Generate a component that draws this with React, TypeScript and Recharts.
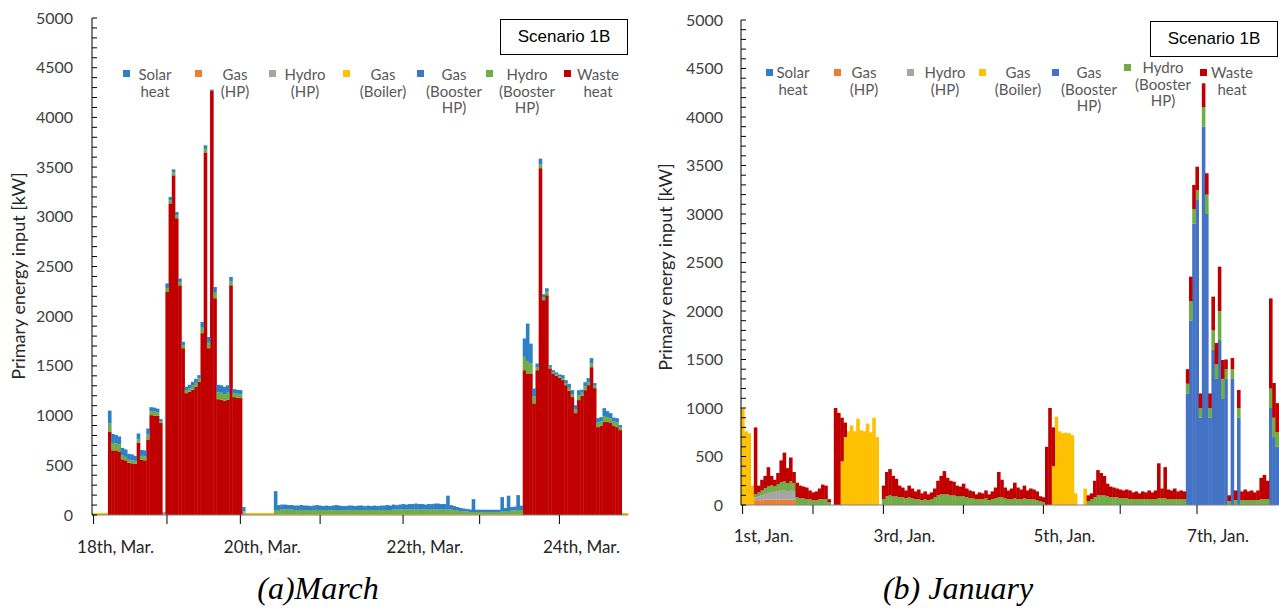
import React from 'react';
import { BarChart, Bar, XAxis, YAxis, Legend } from 'recharts';

// hourly steps of one week
const hours = Array.from({ length: 168 }, (_, i) => i);

const seriesKeys = ['solar', 'gasHp', 'hydroHp', 'boiler', 'gasBooster', 'hydroBooster', 'waste'];
const seriesLines = [
  ['Solar', 'heat'],
  ['Gas', '(HP)'],
  ['Hydro', '(HP)'],
  ['Gas', '(Boiler)'],
  ['Gas', '(Booster', 'HP)'],
  ['Hydro', '(Booster', 'HP)'],
  ['Waste', 'heat'],
];
const seriesColors: Record<string, string> = {
  solar: '#2E80C6',
  gasHp: '#ED7D31',
  hydroHp: '#A5A5A5',
  boiler: '#FFC000',
  gasBooster: '#4472C4',
  hydroBooster: '#70AD47',
  waste: '#C00000',
};

const yMajorTicks = [0, 500, 1000, 1500, 2000, 2500, 3000, 3500, 4000, 4500, 5000];
const yMinorTicks = [
  0, 100, 200, 300, 400, 500, 600, 700, 800, 900, 1000, 1100, 1200, 1300, 1400, 1500, 1600,
  1700, 1800, 1900, 2000, 2100, 2200, 2300, 2400, 2500, 2600, 2700, 2800, 2900, 3000, 3100,
  3200, 3300, 3400, 3500, 3600, 3700, 3800, 3900, 4000, 4100, 4200, 4300, 4400, 4500, 4600,
  4700, 4800, 4900, 5000,
];

// ---- March (18th - 24th) ----
const marchTickHours = [0, 23, 46, 71, 97, 121, 146];
const marchLabelHours = [0, 46, 97, 146];
const marchLabels = ['18th, Mar.', '20th, Mar.', '22th, Mar.', '24th, Mar.'];

const marchSolar = [
  0, 0, 0, 0, 0, 130, 90, 85, 80, 75, 75, 60, 60, 50, 60, 60, 60, 60, 40, 40, 35, 20, 0, 46,
  34, 30, 33, 34, 34, 34, 35, 40, 40, 32, 59, 36, 59, 9, 58, 75, 75, 75, 75, 44, 40, 40, 40, 40,
  0, 0, 0, 0, 0, 0, 0, 0, 0, 190, 50, 50, 50, 45, 45, 45, 45, 50, 45, 45, 40, 45, 50, 45,
  40, 45, 40, 45, 50, 45, 40, 40, 45, 45, 40, 45, 45, 40, 45, 40, 45, 40, 45, 45, 50, 45, 50, 45,
  50, 55, 50, 55, 55, 60, 55, 55, 50, 55, 55, 60, 60, 55, 55, 139, 45, 40, 35, 30, 30, 25, 25, 130,
  23, 23, 23, 23, 23, 23, 23, 23, 145, 30, 154, 35, 40, 150, 44, 185, 382, 200, 80, 37, 56, 30, 35, 18,
  18, 20, 20, 30, 31, 40, 40, 40, 50, 30, 40, 41, 51, 26, 46, 45, 80, 60, 50, 40, 46, 26, 0, 0,
];
const marchGasHp = [
  0, 0, 0, 0, 0, 0, 0, 0, 0, 0, 0, 0, 0, 0, 0, 0, 0, 0, 0, 0, 0, 0, 0, 0,
  0, 0, 0, 0, 0, 0, 0, 0, 0, 0, 0, 0, 0, 0, 0, 0, 0, 0, 0, 0, 0, 0, 0, 0,
  0, 0, 0, 0, 0, 0, 0, 0, 0, 0, 0, 0, 0, 0, 0, 0, 0, 0, 0, 0, 0, 0, 0, 0,
  0, 0, 0, 0, 0, 0, 0, 0, 0, 0, 0, 0, 0, 0, 0, 0, 0, 0, 0, 0, 0, 0, 0, 0,
  0, 0, 0, 0, 0, 0, 0, 0, 0, 0, 0, 0, 0, 0, 0, 0, 0, 0, 0, 0, 0, 0, 0, 0,
  0, 0, 0, 0, 0, 0, 0, 0, 0, 0, 0, 0, 0, 0, 0, 0, 0, 0, 0, 0, 0, 0, 0, 0,
  0, 0, 0, 0, 0, 0, 0, 0, 0, 0, 0, 0, 0, 0, 0, 0, 0, 0, 0, 0, 0, 0, 0, 0,
];
const marchHydroHp = [
  0, 0, 0, 0, 0, 0, 0, 0, 0, 0, 0, 0, 0, 0, 0, 0, 0, 0, 0, 0, 0, 0, 30, 0,
  0, 0, 0, 0, 0, 0, 0, 0, 0, 0, 0, 0, 0, 0, 0, 0, 0, 0, 0, 0, 0, 0, 0, 40,
  0, 0, 0, 0, 0, 0, 0, 0, 0, 0, 0, 0, 0, 0, 0, 0, 0, 0, 0, 0, 0, 0, 0, 0,
  0, 0, 0, 0, 0, 0, 0, 0, 0, 0, 0, 0, 0, 0, 0, 0, 0, 0, 0, 0, 0, 0, 0, 0,
  0, 0, 0, 0, 0, 0, 0, 0, 0, 0, 0, 0, 0, 0, 0, 0, 0, 0, 0, 0, 0, 0, 0, 0,
  0, 0, 0, 0, 0, 0, 0, 0, 0, 0, 0, 0, 0, 0, 0, 0, 0, 0, 0, 0, 0, 0, 0, 0,
  0, 0, 0, 0, 0, 0, 0, 0, 0, 0, 0, 0, 0, 0, 0, 0, 0, 0, 0, 0, 0, 0, 0, 0,
];
const marchBoiler = [
  20, 20, 20, 20, 20, 0, 0, 0, 0, 0, 0, 0, 0, 0, 0, 0, 0, 0, 0, 0, 0, 0, 0, 0,
  0, 0, 0, 0, 0, 0, 0, 0, 0, 0, 0, 0, 0, 0, 0, 0, 0, 0, 0, 0, 0, 0, 0, 0,
  20, 20, 20, 20, 20, 20, 20, 20, 20, 10, 10, 10, 10, 10, 10, 10, 10, 10, 10, 10, 10, 10, 10, 10,
  10, 10, 10, 10, 10, 10, 10, 10, 10, 10, 10, 10, 10, 10, 10, 10, 10, 10, 10, 10, 10, 10, 10, 10,
  10, 10, 10, 10, 10, 10, 10, 10, 10, 10, 10, 10, 10, 10, 10, 10, 10, 10, 10, 10, 10, 10, 10, 10,
  10, 10, 10, 10, 10, 10, 10, 10, 10, 10, 10, 10, 10, 10, 10, 0, 0, 0, 0, 0, 0, 0, 0, 0,
  0, 0, 0, 0, 0, 0, 0, 0, 0, 0, 0, 0, 0, 0, 0, 0, 0, 0, 0, 0, 0, 0, 20, 20,
];
const marchGasBooster = [
  0, 0, 0, 0, 0, 0, 0, 0, 0, 0, 0, 0, 0, 0, 0, 0, 0, 0, 0, 0, 0, 0, 0, 0,
  0, 0, 0, 0, 0, 0, 0, 0, 0, 0, 0, 0, 0, 0, 0, 0, 0, 0, 0, 0, 0, 0, 0, 0,
  0, 0, 0, 0, 0, 0, 0, 0, 0, 0, 0, 0, 0, 0, 0, 0, 0, 0, 0, 0, 0, 0, 0, 0,
  0, 0, 0, 0, 0, 0, 0, 0, 0, 0, 0, 0, 0, 0, 0, 0, 0, 0, 0, 0, 0, 0, 0, 0,
  0, 0, 0, 0, 0, 0, 0, 0, 0, 0, 0, 0, 0, 0, 0, 0, 0, 0, 0, 0, 0, 0, 0, 0,
  0, 0, 0, 0, 0, 0, 0, 0, 0, 0, 0, 0, 0, 0, 0, 0, 0, 0, 0, 0, 0, 0, 0, 0,
  0, 0, 0, 0, 0, 0, 0, 0, 0, 0, 0, 0, 0, 0, 0, 0, 0, 0, 0, 0, 0, 0, 0, 0,
];
const marchHydroBooster = [
  0, 0, 0, 0, 0, 80, 75, 70, 70, 40, 35, 30, 30, 30, 30, 40, 40, 50, 40, 40, 35, 20, 0, 40,
  30, 30, 30, 34, 30, 30, 35, 40, 40, 35, 55, 35, 55, 0, 55, 70, 70, 65, 70, 40, 40, 40, 40, 0,
  0, 0, 0, 0, 0, 0, 0, 0, 0, 40, 40, 45, 45, 45, 45, 40, 40, 40, 40, 40, 40, 40, 40, 40,
  40, 40, 40, 40, 40, 40, 40, 40, 40, 40, 40, 40, 40, 40, 40, 40, 40, 40, 40, 40, 40, 40, 45, 45,
  45, 45, 45, 45, 45, 45, 45, 45, 45, 45, 45, 45, 45, 45, 45, 45, 45, 40, 35, 30, 25, 25, 20, 20,
  20, 20, 20, 20, 20, 20, 20, 20, 25, 30, 30, 35, 35, 40, 40, 134, 120, 100, 70, 30, 40, 30, 35, 15,
  15, 15, 15, 20, 20, 30, 30, 40, 50, 30, 40, 30, 40, 25, 45, 40, 60, 50, 50, 40, 45, 25, 0, 0,
];
const marchWaste = [
  0, 0, 0, 0, 0, 840, 650, 650, 640, 560, 550, 525, 520, 515, 730, 555, 550, 760, 1005, 1000, 1000, 925, 0, 2244,
  3135, 3417, 2985, 2311, 1678, 1226, 1240, 1260, 1290, 1340, 1829, 3648, 1678, 4271, 2181, 1165, 1160, 1150, 1160, 2311, 1186, 1180, 1176, 0,
  0, 0, 0, 0, 0, 0, 0, 0, 0, 0, 0, 0, 0, 0, 0, 0, 0, 0, 0, 0, 0, 0, 0, 0,
  0, 0, 0, 0, 0, 0, 0, 0, 0, 0, 0, 0, 0, 0, 0, 0, 0, 0, 0, 0, 0, 0, 0, 0,
  0, 0, 0, 0, 0, 0, 0, 0, 0, 0, 0, 0, 0, 0, 0, 0, 0, 0, 0, 0, 0, 0, 0, 0,
  0, 0, 0, 0, 0, 0, 0, 0, 0, 0, 0, 0, 0, 0, 0, 1457, 1424, 1424, 1123, 1457, 3489, 2161, 2211, 1475,
  1424, 1400, 1380, 1357, 1306, 1250, 1186, 1025, 1156, 1200, 1256, 1306, 1487, 1276, 884, 900, 935, 935, 925, 900, 884, 854, 0, 0,
];

// ---- January (1st - 7th) ----
const januaryTickHours = [0, 22, 44, 69, 94, 118, 142];
const januaryLabelHours = [0, 44, 94, 142];
const januaryLabels = ['1st, Jan.', '3rd, Jan.', '5th, Jan.', '7th, Jan.'];

const januarySolar = [
  0, 0, 0, 0, 0, 0, 0, 0, 0, 0, 0, 0, 0, 0, 0, 0, 0, 0, 0, 0, 0, 0, 0, 0,
  0, 0, 0, 0, 0, 0, 0, 0, 0, 0, 0, 0, 0, 0, 0, 0, 0, 0, 0, 0, 0, 0, 0, 0,
  0, 0, 0, 0, 0, 0, 0, 0, 0, 0, 0, 0, 0, 0, 0, 0, 0, 0, 0, 0, 0, 0, 0, 0,
  0, 0, 0, 0, 0, 0, 0, 0, 0, 0, 0, 0, 0, 0, 0, 0, 0, 0, 0, 0, 0, 0, 0, 0,
  0, 0, 0, 0, 0, 0, 0, 0, 0, 0, 0, 0, 0, 0, 0, 0, 0, 0, 0, 0, 0, 0, 0, 0,
  0, 0, 0, 0, 0, 0, 0, 0, 0, 0, 0, 0, 0, 0, 0, 0, 0, 0, 0, 0, 0, 0, 0, 0,
  0, 0, 0, 0, 0, 0, 0, 0, 0, 0, 0, 0, 0, 0, 0, 0, 0, 0, 0, 0, 0, 0, 0, 0,
];
const januaryGasHp = [
  0, 0, 0, 0, 50, 50, 50, 55, 55, 55, 55, 55, 55, 55, 55, 55, 55, 0, 0, 0, 0, 0, 0, 0,
  0, 0, 0, 0, 0, 0, 0, 0, 0, 0, 0, 0, 0, 0, 0, 0, 0, 0, 0, 0, 0, 0, 0, 0,
  0, 0, 0, 0, 0, 0, 0, 0, 0, 0, 0, 0, 0, 0, 0, 0, 0, 0, 0, 0, 0, 0, 0, 0,
  0, 0, 0, 0, 0, 0, 0, 0, 0, 0, 0, 0, 0, 0, 0, 0, 0, 0, 0, 0, 0, 0, 0, 0,
  0, 0, 0, 0, 0, 0, 0, 0, 0, 0, 0, 0, 0, 0, 0, 0, 0, 0, 0, 0, 0, 0, 0, 0,
  0, 0, 0, 0, 0, 0, 0, 0, 0, 0, 0, 0, 0, 0, 0, 0, 0, 0, 0, 0, 0, 0, 0, 0,
  0, 0, 0, 0, 0, 0, 0, 0, 0, 0, 0, 0, 0, 0, 0, 0, 0, 0, 0, 0, 0, 0, 0, 0,
];
const januaryHydroHp = [
  0, 0, 0, 0, 30, 40, 50, 60, 70, 80, 80, 90, 100, 100, 90, 100, 90, 0, 0, 0, 0, 0, 0, 0,
  0, 0, 0, 0, 0, 0, 0, 0, 0, 0, 0, 0, 0, 0, 0, 0, 0, 0, 0, 0, 0, 0, 0, 0,
  0, 0, 0, 0, 0, 0, 0, 0, 0, 0, 0, 0, 0, 0, 0, 0, 0, 0, 0, 0, 0, 0, 0, 0,
  0, 0, 0, 0, 0, 0, 0, 0, 0, 0, 0, 0, 0, 0, 0, 0, 0, 0, 0, 0, 0, 0, 0, 0,
  0, 0, 0, 0, 0, 0, 0, 0, 0, 0, 0, 0, 0, 0, 0, 0, 0, 0, 0, 0, 0, 0, 0, 0,
  0, 0, 0, 0, 0, 0, 0, 0, 0, 0, 0, 0, 0, 0, 0, 0, 0, 0, 0, 0, 0, 0, 0, 0,
  0, 0, 0, 0, 0, 0, 0, 0, 0, 0, 0, 0, 0, 0, 0, 0, 0, 0, 0, 0, 0, 0, 0, 0,
];
const januaryBoiler = [
  1000, 760, 740, 200, 0, 0, 0, 0, 0, 0, 0, 0, 0, 0, 0, 0, 0, 0, 0, 0, 0, 0, 0, 0,
  0, 0, 0, 0, 0, 0, 0, 450, 700, 760, 820, 760, 890, 770, 760, 840, 750, 900, 700, 0, 0, 0, 0, 0,
  0, 0, 0, 0, 0, 0, 0, 0, 0, 0, 0, 0, 0, 0, 0, 0, 0, 0, 0, 0, 0, 0, 0, 0,
  0, 0, 0, 0, 0, 0, 0, 0, 0, 0, 0, 0, 0, 0, 0, 0, 0, 0, 0, 0, 0, 0, 0, 0,
  0, 400, 910, 760, 740, 745, 740, 720, 120, 0, 0, 170, 0, 0, 0, 0, 0, 0, 0, 0, 0, 0, 0, 0,
  0, 0, 0, 0, 0, 0, 0, 0, 0, 0, 0, 0, 0, 0, 0, 0, 0, 0, 0, 0, 0, 0, 0, 0,
  0, 0, 0, 0, 0, 0, 0, 0, 0, 0, 0, 0, 0, 0, 0, 0, 0, 0, 0, 0, 0, 0, 0, 0,
];
const januaryGasBooster = [
  0, 0, 0, 0, 0, 0, 0, 0, 0, 0, 0, 0, 0, 0, 0, 0, 0, 0, 0, 0, 0, 0, 0, 0,
  0, 0, 0, 0, 0, 0, 0, 0, 0, 0, 0, 0, 0, 0, 0, 0, 0, 0, 0, 0, 0, 0, 0, 0,
  0, 0, 0, 0, 0, 0, 0, 0, 0, 0, 0, 0, 0, 0, 0, 0, 0, 0, 0, 0, 0, 0, 0, 0,
  0, 0, 0, 0, 0, 0, 0, 0, 0, 0, 0, 0, 0, 0, 0, 0, 0, 0, 0, 0, 0, 0, 0, 0,
  0, 0, 0, 0, 0, 0, 0, 0, 0, 0, 0, 0, 0, 0, 0, 0, 0, 0, 0, 0, 0, 0, 0, 0,
  0, 0, 0, 0, 0, 0, 0, 0, 0, 0, 0, 0, 0, 0, 0, 0, 0, 0, 0, 1150, 1900, 2900, 3144, 900,
  3900, 3000, 900, 1600, 1300, 1700, 1100, 1300, 0, 1300, 0, 900, 0, 0, 0, 0, 0, 0, 0, 0, 0, 1000, 700, 600,
];
const januaryHydroBooster = [
  0, 0, 0, 0, 30, 40, 50, 60, 70, 70, 60, 70, 80, 90, 80, 90, 80, 80, 70, 70, 60, 60, 50, 50,
  60, 60, 60, 30, 0, 0, 0, 0, 0, 0, 0, 0, 0, 0, 0, 0, 0, 0, 0, 0, 60, 90, 100, 90,
  90, 80, 80, 70, 80, 70, 60, 60, 50, 60, 50, 60, 80, 100, 110, 110, 110, 100, 100, 90, 90, 90, 80, 70,
  70, 60, 60, 60, 70, 50, 60, 70, 80, 80, 70, 60, 60, 70, 60, 60, 70, 60, 60, 60, 50, 40, 30, 0,
  0, 0, 0, 0, 0, 0, 0, 0, 0, 0, 0, 0, 40, 60, 80, 100, 100, 100, 90, 80, 80, 80, 70, 70,
  70, 60, 60, 60, 60, 60, 60, 60, 60, 60, 70, 70, 70, 60, 60, 60, 60, 60, 60, 100, 200, 150, 100, 100,
  200, 200, 100, 200, 150, 300, 200, 100, 40, 100, 50, 100, 50, 50, 50, 50, 50, 50, 60, 60, 60, 200, 200, 150,
];
const januaryWaste = [
  0, 0, 0, 0, 690, 70, 110, 125, 195, 95, 65, 115, 225, 295, 155, 245, 115, 150, 130, 120, 120, 90, 80, 90,
  110, 150, 140, 30, 0, 1000, 950, 450, 150, 0, 0, 0, 0, 0, 0, 0, 0, 0, 0, 0, 140, 250, 270, 210,
  180, 120, 100, 80, 120, 100, 80, 100, 70, 80, 60, 70, 90, 150, 190, 240, 170, 150, 140, 110, 100, 130, 90, 80,
  70, 50, 70, 60, 80, 60, 80, 110, 260, 180, 110, 90, 110, 160, 120, 100, 130, 90, 110, 100, 90, 50, 50, 600,
  1000, 400, 0, 0, 0, 0, 0, 0, 0, 0, 0, 0, 60, 60, 170, 260, 230, 200, 130, 110, 100, 90, 90, 80,
  90, 90, 70, 80, 60, 80, 70, 90, 70, 90, 360, 100, 320, 100, 90, 110, 80, 90, 80, 150, 254, 250, 244, 150,
  247, 220, 150, 348, 220, 457, 195, 100, 60, 115, 100, 186, 90, 110, 90, 100, 80, 100, 220, 250, 190, 930, 358, 300,
];

const marchRows = hours.map((h, i) => ({
  h,
  solar: marchSolar[i],
  gasHp: marchGasHp[i],
  hydroHp: marchHydroHp[i],
  boiler: marchBoiler[i],
  gasBooster: marchGasBooster[i],
  hydroBooster: marchHydroBooster[i],
  waste: marchWaste[i],
}));

const januaryRows = hours.map((h, i) => ({
  h,
  solar: januarySolar[i],
  gasHp: januaryGasHp[i],
  hydroHp: januaryHydroHp[i],
  boiler: januaryBoiler[i],
  gasBooster: januaryGasBooster[i],
  hydroBooster: januaryHydroBooster[i],
  waste: januaryWaste[i],
}));

const FONT = 'Lato, "Open Sans", sans-serif';

// bars are floored to whole pixels by recharts, widen a bit so columns touch
const Column = (props: any) => {
  const { x, y, width, height, fill } = props;
  if (!height || height <= 0) return <g />;
  return <rect x={x} y={y} width={width + 0.6} height={height} fill={fill} />;
};

const YTick = (props: any) => {
  const { x, y, payload } = props;
  if (!yMajorTicks.includes(payload.value)) return <g />;
  return (
    <text x={x} y={y} dy={5.5} textAnchor="end" fontSize={16} fill="#404040" fontFamily={FONT}>
      {payload.value}
    </text>
  );
};

const AxisTitle = ({ titleX, titleY }: any) => (
  <text
    x={titleX}
    y={titleY}
    transform={`rotate(-90, ${titleX}, ${titleY})`}
    textAnchor="middle"
    dominantBaseline="central"
    fontSize={18}
    fill="#262626"
    fontFamily={FONT}
  >
    Primary energy input [kW]
  </text>
);

function LegendBlock({ layout }: any) {
  return (
    <div style={{ position: 'relative', width: 0, height: 0 }}>
      {seriesKeys.map((k, i) => (
        <React.Fragment key={k}>
          <div
            style={{
              position: 'absolute',
              left: layout.markerX[i],
              top: layout.markerY + layout.itemDy[i] - 3.5,
              width: 7,
              height: 7,
              background: seriesColors[k],
            }}
          />
          <div
            style={{
              position: 'absolute',
              left: layout.textX[i] - 50,
              top: layout.lineY + layout.itemDy[i] - 8,
              width: 100,
              textAlign: 'center',
              fontFamily: FONT,
              fontSize: 15,
              lineHeight: '16.5px',
              color: '#595959',
              whiteSpace: 'nowrap',
            }}
          >
            {seriesLines[i].map((line) => (
              <div key={line} style={{ height: 16.5 }}>{line}</div>
            ))}
          </div>
        </React.Fragment>
      ))}
    </div>
  );
}

function EnergyChart({ rows, order, ticks, frame, legend }: any) {
  const XTick = (props: any) => {
    const { x, y, payload } = props;
    const v = payload.value;
    if (!ticks.hours.includes(v)) return <g />;
    const li = ticks.labelHours.indexOf(v);
    return (
      <g>
        <line x1={x} x2={x} y1={y} y2={y + 9} stroke="#000" strokeWidth={1} />
        {li >= 0 && (
          <text
            x={x + ticks.labelDx}
            y={y + ticks.labelDy}
            textAnchor="middle"
            fontSize={17}
            fill="#262626"
            fontFamily={FONT}
          >
            {ticks.labels[li]}
          </text>
        )}
      </g>
    );
  };

  return (
    <BarChart
      width={640}
      height={560}
      data={rows}
      margin={frame.margin}
      barCategoryGap={0}
      barGap={0}
    >
      <XAxis
        dataKey="h"
        interval={0}
        tickLine={false}
        tickSize={0}
        tickMargin={0}
        height={frame.xAxisHeight}
        axisLine={{ stroke: '#808080' }}
        tick={XTick}
      />
      <XAxis
        xAxisId="top"
        dataKey="h"
        orientation="top"
        height={0}
        tick={false}
        tickLine={false}
        axisLine={{ stroke: '#595959' }}
      />
      <YAxis
        type="number"
        domain={[0, 5000]}
        ticks={yMinorTicks}
        interval={0}
        tickSize={-5}
        tickMargin={frame.tickMargin}
        width={frame.yAxisWidth}
        axisLine={{ stroke: '#000' }}
        tickLine={{ stroke: '#000' }}
        tick={YTick}
        label={<AxisTitle titleX={frame.titleX} titleY={frame.titleY} />}
      />
      <YAxis
        yAxisId="right"
        type="number"
        orientation="right"
        domain={[0, 5000]}
        ticks={[]}
        width={0}
        tick={false}
        tickLine={false}
        axisLine={{ stroke: '#595959' }}
      />
      <Legend
        content={() => <LegendBlock layout={legend} />}
        wrapperStyle={{ position: 'absolute', left: 0, top: 0, width: 0, height: 0 }}
      />
      {order.map((k: string) => (
        <Bar
          key={k}
          dataKey={k}
          stackId="energy"
          fill={seriesColors[k]}
          isAnimationActive={false}
          shape={Column}
        />
      ))}
    </BarChart>
  );
}

const boxStyle: React.CSSProperties = {
  position: 'absolute',
  width: 126,
  height: 34,
  border: '1.5px solid #000',
  background: '#fff',
  display: 'flex',
  alignItems: 'center',
  justifyContent: 'center',
  fontFamily: '"Liberation Sans", Arial, sans-serif',
  fontSize: 17,
  color: '#000',
};

const captionStyle: React.CSSProperties = {
  position: 'absolute',
  top: 568,
  width: 400,
  textAlign: 'center',
  fontFamily: '"Liberation Serif", "Times New Roman", serif',
  fontStyle: 'italic',
  fontSize: 32,
  lineHeight: '40px',
  color: '#000',
};

export default function App() {
  return (
    <div
      style={{
        position: 'absolute',
        left: 0,
        top: 0,
        width: 1279,
        height: 608,
        overflow: 'hidden',
        background: '#fff',
      }}
    >
      <div style={{ position: 'absolute', left: 0, top: 0 }}>
        <EnergyChart
          rows={marchRows}
          order={['boiler', 'gasHp', 'hydroHp', 'gasBooster', 'waste', 'hydroBooster', 'solar']}
          ticks={{
            hours: marchTickHours,
            labelHours: marchLabelHours,
            labels: marchLabels,
            labelDx: 22,
            labelDy: 38,
          }}
          frame={{
            margin: { top: 18, right: 12, bottom: 0, left: 0 },
            xAxisHeight: 45,
            yAxisWidth: 92,
            tickMargin: 24,
            titleX: 18,
            titleY: 276,
          }}
          legend={{
            markerX: [123, 195, 269, 343, 417, 486, 564],
            textX: [155, 235, 305, 383, 454, 527, 598],
            markerY: 73,
            lineY: 74,
            itemDy: [0, 0, 0, 0, 0, 0, 0],
          }}
        />
      </div>
      <div style={{ position: 'absolute', left: 640, top: 0 }}>
        <EnergyChart
          rows={januaryRows}
          order={['gasHp', 'hydroHp', 'boiler', 'gasBooster', 'hydroBooster', 'waste', 'solar']}
          ticks={{
            hours: januaryTickHours,
            labelHours: januaryLabelHours,
            labels: januaryLabels,
            labelDx: 21,
            labelDy: 37,
          }}
          frame={{
            margin: { top: 20, right: 1.4, bottom: 0, left: 0 },
            xAxisHeight: 55,
            yAxisWidth: 101,
            tickMargin: 23,
            titleX: 25,
            titleY: 267,
          }}
          legend={{
            markerX: [126, 194, 267, 339, 412, 484, 560],
            textX: [153, 224, 305, 378, 449, 523, 592],
            markerY: 72,
            lineY: 72,
            itemDy: [0, 0, 0, 0, 0, -5, 0],
          }}
        />
      </div>
      <div style={{ ...boxStyle, left: 500, top: 19 }}>Scenario 1B</div>
      <div style={{ ...boxStyle, left: 1150, top: 21 }}>Scenario 1B</div>
      <div style={{ ...captionStyle, left: 118 }}>(a)March</div>
      <div style={{ ...captionStyle, left: 758 }}>(b) January</div>
    </div>
  );
}
